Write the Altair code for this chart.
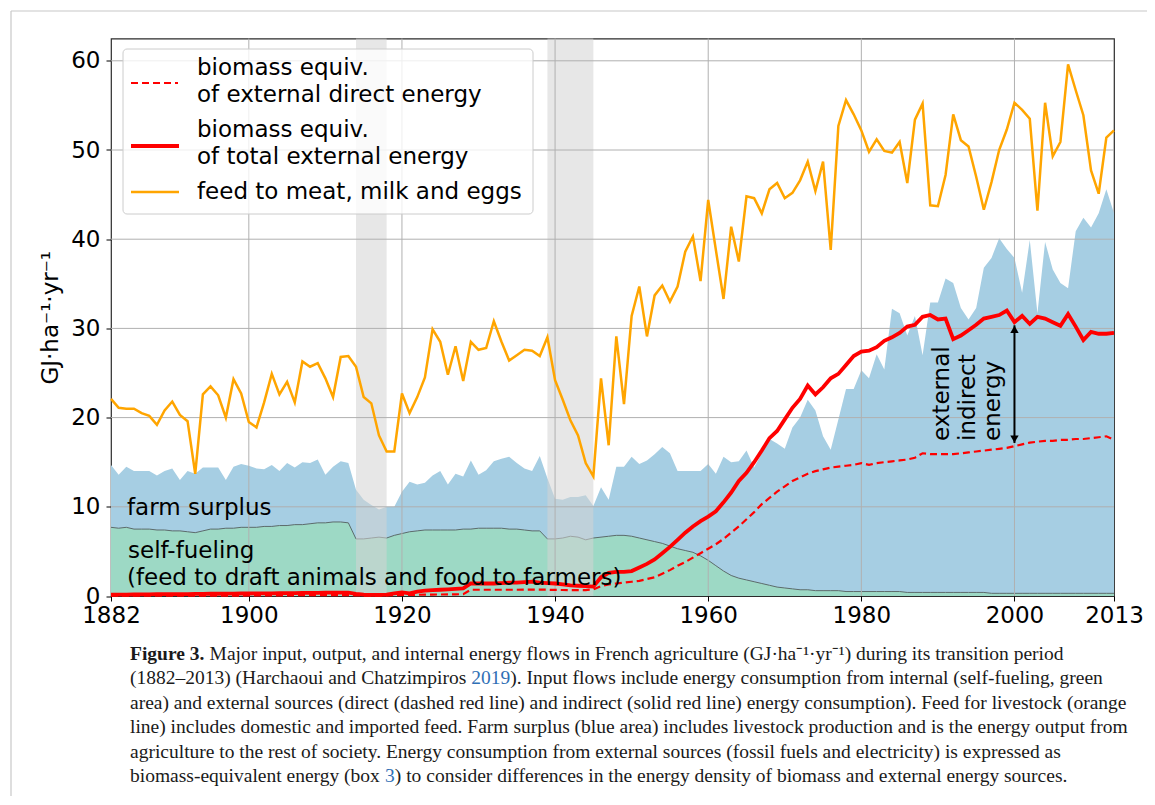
import altair as alt
import pandas as pd

# ---------------- data ----------------
years = list(range(1882, 2014))

feed_to_livestock = [
    22.1, 21.1, 21.0, 21.0, 20.5, 20.2, 19.2, 20.8, 21.8, 20.3,   # 1882-1891
    19.6, 13.7, 22.6, 23.5, 22.5, 20.0, 24.3, 22.7, 19.5, 18.9,   # 1892-1901
    21.7, 24.9, 22.6, 24.0, 21.7, 26.3, 25.7, 26.1, 24.4, 22.3,   # 1902-1911
    26.8, 26.9, 25.7, 22.3, 21.6, 18.0, 16.2, 16.2, 22.7, 20.5,   # 1912-1921
    22.3, 24.5, 29.9, 28.5, 24.8, 28.0, 24.1, 28.5, 27.6, 27.8,   # 1922-1931
    30.8, 28.5, 26.4, 27.0, 27.6, 27.5, 26.9, 29.0, 24.2, 22.0,   # 1932-1941
    19.7, 18.0, 14.9, 13.4, 24.4, 16.9, 29.1, 21.5, 31.4, 34.7,   # 1942-1951
    29.1, 33.7, 34.8, 33.0, 34.7, 38.6, 40.3, 35.3, 44.4, 38.8,   # 1952-1961
    33.3, 41.4, 37.5, 44.8, 44.6, 42.9, 45.6, 46.3, 44.6, 45.2,   # 1962-1971
    46.6, 48.7, 45.4, 48.7, 38.8, 52.7, 55.6, 54.0, 52.2, 49.8,   # 1972-1981
    51.2, 49.9, 49.7, 50.9, 46.3, 53.4, 55.2, 43.8, 43.7, 47.2,   # 1982-1991
    54.0, 51.1, 50.4, 47.0, 43.3, 46.4, 50.0, 52.3, 55.3, 54.5,   # 1992-2001
    53.5, 43.2, 55.3, 49.3, 50.9, 59.6, 56.7, 53.9, 47.7, 45.1,   # 2002-2011
    51.4, 52.2,                                                   # 2012-2013
]

# top of the blue area (self-fueling + farm surplus)
farm_surplus_top = [
    14.7, 13.6, 14.5, 14.0, 14.0, 14.0, 13.5, 14.0, 14.3, 13.0,
    14.0, 13.7, 14.4, 14.4, 14.4, 13.0, 14.5, 14.8, 14.6, 14.3,
    14.2, 14.7, 14.0, 14.9, 14.4, 15.0, 14.9, 15.3, 13.6, 14.5,
    15.1, 14.9, 11.9, 10.8, 10.2, 9.7, 10.0, 10.0, 11.7, 12.8,
    12.5, 12.7, 13.5, 14.0, 12.5, 13.7, 13.4, 15.2, 13.6, 14.1,
    15.1, 15.4, 15.6, 14.9, 14.3, 14.0, 15.7, 13.2, 10.9, 10.8,
    11.1, 11.1, 11.3, 10.1, 12.2, 10.8, 14.5, 14.5, 15.6, 14.8,
    15.2, 15.9, 16.7, 16.0, 14.0, 14.0, 14.0, 14.0, 14.8, 13.7,
    15.6, 15.0, 15.1, 16.3, 14.4, 16.0, 17.6, 17.1, 16.5, 18.9,
    20.0, 22.0, 20.8, 17.9, 16.4, 19.8, 23.2, 23.2, 25.3, 24.4,
    27.1, 25.4, 32.2, 31.7, 29.2, 31.4, 27.0, 32.9, 32.9, 35.6,
    35.1, 32.3, 31.0, 32.3, 36.8, 37.9, 40.1, 38.9, 37.9, 34.0,
    39.9, 31.7, 39.7, 36.6, 35.1, 34.5, 40.9, 42.4, 41.3, 42.9,
    45.6, 42.9,
]

self_fueling = [
    7.7, 7.6, 7.7, 7.5, 7.5, 7.5, 7.4, 7.4, 7.3, 7.3,
    7.2, 7.1, 7.3, 7.5, 7.5, 7.6, 7.6, 7.7, 7.7, 7.7,
    7.8, 7.8, 7.9, 7.9, 8.0, 8.0, 8.1, 8.2, 8.2, 8.3,
    8.3, 8.2, 6.4, 6.4, 6.5, 6.6, 6.5, 6.8, 7.0, 7.2,
    7.3, 7.4, 7.4, 7.4, 7.4, 7.4, 7.5, 7.5, 7.6, 7.6,
    7.6, 7.6, 7.5, 7.5, 7.4, 7.3, 7.3, 6.4, 6.4, 6.5,
    6.7, 6.6, 6.3, 6.5, 6.6, 6.7, 6.8, 6.8, 6.7, 6.5,
    6.3, 6.1, 5.9, 5.6, 5.3, 5.1, 4.9, 4.5, 4.0, 3.4,
    2.8, 2.3, 2.0, 1.8, 1.6, 1.4, 1.2, 1.0, 0.9, 0.8,
    0.7, 0.7, 0.6, 0.6, 0.6, 0.6, 0.5, 0.5, 0.5, 0.5,
    0.5, 0.5, 0.5, 0.5, 0.4, 0.4, 0.4, 0.4, 0.4, 0.4,
    0.4, 0.4, 0.4, 0.4, 0.4, 0.3, 0.3, 0.3, 0.3, 0.3,
    0.3, 0.3, 0.3, 0.3, 0.3, 0.3, 0.3, 0.3, 0.3, 0.3,
    0.3, 0.3,
]

external_total = [
    0.15, 0.15, 0.16, 0.17, 0.18, 0.19, 0.20, 0.20, 0.21, 0.22,
    0.22, 0.23, 0.24, 0.25, 0.25, 0.26, 0.27, 0.28, 0.28, 0.29,
    0.30, 0.30, 0.31, 0.32, 0.33, 0.34, 0.35, 0.36, 0.37, 0.38,
    0.38, 0.37, 0.25, 0.15, 0.12, 0.12, 0.15, 0.30, 0.40, 0.30,
    0.50, 0.60, 0.65, 0.70, 0.75, 0.80, 0.85, 1.40, 1.40, 1.40,
    1.40, 1.45, 1.50, 1.50, 1.55, 1.60, 1.50, 1.45, 1.40, 1.30,
    1.20, 1.15, 1.10, 1.05, 2.10, 2.60, 2.70, 2.70, 2.80, 3.20,
    3.60, 4.10, 4.80, 5.50, 6.30, 7.10, 7.80, 8.40, 8.90, 9.50,
    10.5, 11.6, 12.9, 13.8, 15.0, 16.3, 17.7, 18.5, 19.8, 21.1,
    22.1, 23.6, 22.6, 23.4, 24.4, 24.9, 25.9, 26.9, 27.4, 27.5,
    27.9, 28.6, 29.0, 29.5, 30.2, 30.4, 31.3, 31.5, 31.0, 31.1,
    28.8, 29.2, 29.8, 30.4, 31.1, 31.3, 31.5, 32.0, 30.7, 31.4,
    30.5, 31.3, 31.1, 30.7, 30.3, 31.6, 30.2, 28.7, 29.6, 29.4,
    29.4, 29.5,
]

external_direct = [
    0.05, 0.05, 0.05, 0.05, 0.05, 0.05, 0.05, 0.05, 0.05, 0.05,
    0.05, 0.05, 0.05, 0.05, 0.05, 0.05, 0.05, 0.05, 0.06, 0.06,
    0.07, 0.07, 0.08, 0.08, 0.08, 0.09, 0.09, 0.10, 0.10, 0.10,
    0.10, 0.10, 0.07, 0.05, 0.05, 0.05, 0.06, 0.10, 0.12, 0.12,
    0.14, 0.15, 0.16, 0.17, 0.18, 0.19, 0.20, 0.70, 0.70, 0.70,
    0.70, 0.70, 0.70, 0.70, 0.72, 0.72, 0.72, 0.70, 0.68, 0.67,
    0.66, 0.66, 0.66, 0.75, 1.10, 1.30, 1.40, 1.50, 1.60, 1.70,
    1.90, 2.10, 2.50, 2.90, 3.40, 3.80, 4.30, 4.80, 5.30, 5.80,
    6.4, 7.1, 7.8, 8.6, 9.4, 10.3, 11.0, 11.7, 12.3, 12.9,
    13.3, 13.7, 14.0, 14.2, 14.4, 14.5, 14.6, 14.7, 14.9, 14.7,
    14.9, 15.0, 15.1, 15.2, 15.3, 15.5, 16.0, 15.9, 15.9, 15.9,
    15.9, 16.0, 16.1, 16.2, 16.3, 16.4, 16.5, 16.6, 16.8, 17.0,
    17.2, 17.3, 17.4, 17.4, 17.5, 17.5, 17.6, 17.6, 17.7, 17.8,
    17.9, 17.5,
]

x_ticks = [1882, 1900, 1920, 1940, 1960, 1980, 2000, 2013]
y_ticks = [0, 10, 20, 30, 40, 50, 60]
war_start = [1914, 1939]
war_end = [1918, 1945]

y_title = "GJ·ha⁻¹·yr⁻¹"
legend_labels = [
    ["biomass equiv.", "of external direct energy"],
    ["biomass equiv.", "of total external energy"],
    ["feed to meat, milk and eggs"],
]
area_labels = ["farm surplus", "self-fueling", "(feed to draft animals and food to farmers)"]
arrow_year = 2000
arrow_labels = ["external", "indirect", "energy"]

caption_segments = [
    [("Figure 3.", "bold"),
     (" Major input, output, and internal energy flows in French agriculture (GJ·ha⁻¹·yr⁻¹) during its transition period", "plain")],
    [("(1882–2013) (Harchaoui and Chatzimpiros", "plain"), (" 2019", "link"),
     ("). Input flows include energy consumption from internal (self-fueling, green", "plain")],
    [("area) and external sources (direct (dashed red line) and indirect (solid red line) energy consumption). Feed for livestock (orange", "plain")],
    [("line) includes domestic and imported feed. Farm surplus (blue area) includes livestock production and is the energy output from", "plain")],
    [("agriculture to the rest of society. Energy consumption from external sources (fossil fuels and electricity) is expressed as", "plain")],
    [("biomass-equivalent energy (box", "plain"), (" 3", "link"),
     (") to consider differences in the energy density of biomass and external energy sources.", "plain")],
]

# ---------------- styling ----------------
W, H = 1003, 557.5
FONT = "DejaVu Sans"
FS = 23
SERIF = "Liberation Serif"
CFS = 19.5
BLUE = "#a6cee3"
GREEN = "#9dd9c5"
ORANGE = "#ffa500"
RED = "#ff0000"
LINK = "#2f6fb5"

# Times-compatible advance widths (per 1000 em) for placing caption segments
TIMES = {" ": 250, "(": 333, ")": 333, "-": 333, "–": 500, ".": 250, ",": 250,
         "a": 444, "b": 500, "c": 444, "d": 500, "e": 444, "f": 333, "g": 500,
         "h": 500, "i": 278, "j": 278, "k": 500, "l": 278, "m": 778, "n": 500,
         "o": 500, "p": 500, "q": 500, "r": 333, "s": 389, "t": 278, "u": 500,
         "v": 500, "w": 722, "x": 500, "y": 500, "z": 444, "C": 667, "H": 722,
         "F": 556}
TIMES_BOLD = {"F": 611, "i": 278, "g": 500, "u": 556, "r": 444, "e": 444,
              " ": 250, ".": 250}


def text_width(s, table):
    return sum(table.get(c, 500) for c in s) / 1000.0 * CFS


df = pd.DataFrame({
    "year": years,
    "feed": feed_to_livestock,
    "surplus_top": farm_surplus_top,
    "self_fueling": self_fueling,
    "ext_total": external_total,
    "ext_direct": external_direct,
})

wars = pd.DataFrame({"start": war_start, "end": war_end})
xgrid = pd.DataFrame({"tick": x_ticks[1:-1]})
ygrid = pd.DataFrame({"tick": y_ticks[1:]})
i2000 = years.index(arrow_year)
arrow = pd.DataFrame({
    "year": [arrow_year],
    "top": [external_total[i2000] - 0.35],
    "bottom": [external_direct[i2000] + 0.35],
})

XS = alt.Scale(domain=[1882, 2013], nice=False, zero=False)
YS = alt.Scale(domain=[0, 62.5], nice=False, zero=True)
XA = alt.Axis(values=x_ticks, format="d", title=None, labelPadding=3)
YA = alt.Axis(values=y_ticks, format="d", title=y_title, labelPadding=6, titlePadding=8)


def xq(field):
    return alt.X(f"{field}:Q", scale=XS, axis=XA)


def yq(field):
    return alt.Y(f"{field}:Q", scale=YS, axis=YA)


ONE = alt.Data(values=[{}])


def label(text, x, y, **kw):
    props = dict(text=text, align="left", baseline="alphabetic", font=FONT,
                 fontSize=FS, color="black")
    props.update(kw)
    return alt.Chart(ONE).mark_text(**props).encode(x=alt.value(x), y=alt.value(y))


base = alt.Chart(df)
layers = []

# areas
layers.append(base.mark_area(color=BLUE, opacity=1).encode(x=xq("year"), y=yq("surplus_top")))
layers.append(base.mark_area(color=GREEN, opacity=1).encode(x=xq("year"), y=yq("self_fueling")))
layers.append(base.mark_line(color="#5c6b6b", strokeWidth=1).encode(x=xq("year"), y=yq("self_fueling")))

# war periods
layers.append(alt.Chart(wars).mark_rect(color="#d3d3d3", opacity=0.55).encode(
    x=xq("start"), x2="end:Q", y=alt.value(0), y2=alt.value(H)))

# grid
layers.append(alt.Chart(xgrid).mark_rule(color="#b0b0b0", strokeWidth=1).encode(x=xq("tick")))
layers.append(alt.Chart(ygrid).mark_rule(color="#b0b0b0", strokeWidth=1).encode(y=yq("tick")))

# lines
layers.append(base.mark_line(color=ORANGE, strokeWidth=2.5).encode(x=xq("year"), y=yq("feed")))
layers.append(base.mark_line(color=RED, strokeWidth=2.2, strokeDash=[7, 4]).encode(x=xq("year"), y=yq("ext_direct")))
layers.append(base.mark_line(color=RED, strokeWidth=3.8).encode(x=xq("year"), y=yq("ext_total")))

# double arrow: external indirect energy
layers.append(alt.Chart(arrow).mark_rule(color="black", strokeWidth=2).encode(
    x=xq("year"), y=yq("top"), y2="bottom:Q"))
layers.append(alt.Chart(arrow).mark_point(shape="triangle-up", filled=True, size=70, color="black",
                                          opacity=1, yOffset=4).encode(x=xq("year"), y=yq("top")))
layers.append(alt.Chart(arrow).mark_point(shape="triangle-down", filled=True, size=70, color="black",
                                          opacity=1, yOffset=-4).encode(x=xq("year"), y=yq("bottom")))
for txt, xp in zip(arrow_labels, [838, 864, 889]):
    layers.append(label(txt, xp, 402.5, angle=270))

# area labels
layers.append(label(area_labels[0], 16, 476.5))
layers.append(label(area_labels[1], 17, 519.5))
layers.append(label(area_labels[2], 16, 546.5))

# legend
layers.append(alt.Chart(ONE).mark_rect(fill="white", fillOpacity=0.8, stroke="#cccccc", strokeWidth=1,
                                       cornerRadius=4).encode(
    x=alt.value(12), x2=alt.value(422), y=alt.value(10.5), y2=alt.value(175.5)))
layers.append(alt.Chart(ONE).mark_rule(color=RED, strokeWidth=2.2, strokeDash=[7, 4]).encode(
    x=alt.value(20), x2=alt.value(67), y=alt.value(44.5)))
layers.append(alt.Chart(ONE).mark_rule(color=RED, strokeWidth=3.8).encode(
    x=alt.value(20), x2=alt.value(68), y=alt.value(107.5)))
layers.append(alt.Chart(ONE).mark_rule(color=ORANGE, strokeWidth=2.5).encode(
    x=alt.value(20), x2=alt.value(68), y=alt.value(153.5)))
leg_y = [[29.5, 56.5], [91.5, 118.5], [153.5]]
for lines, ys in zip(legend_labels, leg_y):
    for t, yy in zip(lines, ys):
        layers.append(label(t, 86, yy, baseline="middle"))

# caption below the chart
X0 = 19
for i, segs in enumerate(caption_segments):
    yb = 621.5 + i * 24.4
    x = X0
    for text, style in segs:
        stripped = text.lstrip(" ")
        x += (len(text) - len(stripped)) * 0.25 * CFS
        kw = dict(font=SERIF, fontSize=CFS, color="#1a1a1a")
        if style == "bold":
            kw["fontWeight"] = "bold"
        if style == "link":
            kw["color"] = LINK
        layers.append(label(stripped, x, yb, **kw))
        x += text_width(stripped, TIMES_BOLD if style == "bold" else TIMES)

# outer frame lines (top and left) of the figure box
layers.append(alt.Chart(ONE).mark_rule(color="#c8c8c8", strokeWidth=1.2).encode(
    x=alt.value(-100), y=alt.value(-27.5), y2=alt.value(760)))
layers.append(alt.Chart(ONE).mark_rule(color="#c8c8c8", strokeWidth=1.2).encode(
    x=alt.value(-100), x2=alt.value(1040), y=alt.value(-27.5)))

chart = alt.layer(*layers).properties(
    width=W, height=H,
    autosize=alt.AutoSizeParams(type="none"),
    padding={"left": 103, "top": 30.5, "right": 33, "bottom": 200},
    background="white",
).configure_view(
    stroke="#2b2b2b", strokeWidth=1.2
).configure_axis(
    grid=False, domain=False,
    labelFont=FONT, labelFontSize=FS, labelColor="black",
    titleFont=FONT, titleFontSize=FS, titleFontWeight="normal", titleColor="black",
    tickColor="black", tickSize=5, tickWidth=1,
    labelFlush=False, labelOverlap=False,
)

chart.save("out.html", embed_options={"renderer": "svg", "actions": False})
